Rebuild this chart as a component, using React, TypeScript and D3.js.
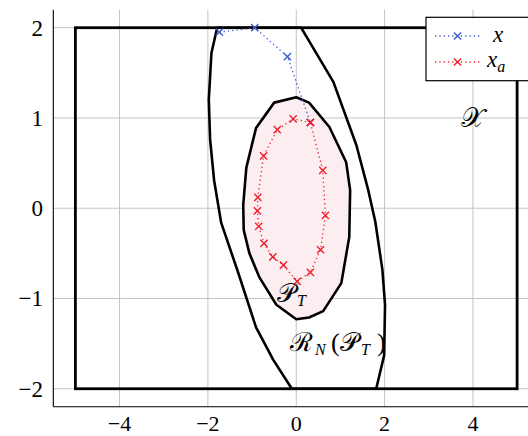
import React from "react";
import * as d3 from "d3";

// Axis ticks
const xTicks = [-4, -2, 0, 2, 4];
const yTicks = [-2, -1, 0, 1, 2];

// State constraint set X (box)
const boxX = [-5, 5];
const boxY = [-2, 2];

// Terminal set P_T (polytope vertices)
const ptX = [0, 0.29, 0.75, 1.13, 1.22, 1.2, 1.02, 0.61, 0.29, 0, -0.45, -0.84, -1.06, -1.19, -1.2, -1.13, -0.91, -0.5];
const ptY = [1.23, 1.17, 0.9, 0.51, 0.2, -0.32, -0.83, -1.14, -1.21, -1.23, -1.07, -0.76, -0.5, -0.24, 0.04, 0.45, 0.89, 1.17];

// N-step reachable set R_N(P_T), clipped by X
const rnX = [-1.79, -1.92, -1.98, -1.95, -1.86, -1.7, -1.31, -0.91, -0.52, -0.1, 1.81, 1.99, 2.01, 1.95, 1.79, 1.63, 1.36, 0.84, 0.11];
const rnY = [2.0, 1.72, 1.2, 0.76, 0.31, -0.16, -0.72, -1.32, -1.68, -2.0, -2.0, -1.63, -1.07, -0.68, -0.15, 0.2, 0.7, 1.4, 2.0];

// Closed-loop trajectory x
const trajX = [-1.74, -0.94, -0.2, 0.32];
const trajY = [1.95, 2.0, 1.68, 0.95];

// Periodic trajectory x_a
const orbX = [0.32, -0.07, -0.43, -0.74, -0.87, -0.88, -0.85, -0.73, -0.53, -0.29, 0.02, 0.32, 0.55, 0.66, 0.6, 0.32];
const orbY = [0.95, 0.99, 0.87, 0.58, 0.12, -0.03, -0.2, -0.39, -0.54, -0.63, -0.81, -0.71, -0.46, -0.08, 0.42, 0.95];

const W = 528;
const H = 436;
const left = 53.3;
const top = 9.65;
const pw = 485.9;
const ph = 397.15;

const blue = "#3c5ccb";
const red = "#f0202e";
const font = "'Liberation Serif', 'DejaVu Serif', serif";

function Cross({ cx, cy, color }: { cx: number; cy: number; color: string }) {
  const s = 3.6;
  return (
    <path
      d={`M${cx - s},${cy - s}L${cx + s},${cy + s}M${cx - s},${cy + s}L${cx + s},${cy - s}`}
      stroke={color}
      strokeWidth={1.4}
      fill="none"
    />
  );
}

export default function App() {
  const x = d3.scaleLinear().domain([-5.5, 5.5]).range([left, left + pw]);
  const y = d3.scaleLinear().domain([-2.2, 2.2]).range([top + ph, top]);

  const line = d3
    .line<[number, number]>()
    .x((d) => x(d[0]))
    .y((d) => y(d[1]));

  const pt: [number, number][] = ptX.map((v, i) => [v, ptY[i]]);
  const rn: [number, number][] = rnX.map((v, i) => [v, rnY[i]]);
  const traj: [number, number][] = trajX.map((v, i) => [v, trajY[i]]);
  const orb: [number, number][] = orbX.map((v, i) => [v, orbY[i]]);

  const lx0 = 435;
  const lx1 = 480;

  return (
    <svg
      width={W}
      height={H}
      style={{ position: "absolute", left: 0, top: 0, background: "#fff" }}
      fontFamily={font}
    >
      <defs>
        <clipPath id="plot">
          <rect x={left} y={top} width={pw} height={ph} />
        </clipPath>
      </defs>
      {/* grid */}
      <g stroke="#c4c4c4" strokeWidth={1}>
        {xTicks.map((t) => (
          <line key={"gx" + t} x1={x(t)} x2={x(t)} y1={top} y2={top + ph} />
        ))}
        {yTicks.map((t) => (
          <line key={"gy" + t} x1={left} x2={left + pw} y1={y(t)} y2={y(t)} />
        ))}
      </g>
      {/* axis lines */}
      <line x1={left} x2={left} y1={top} y2={top + ph} stroke="#000" strokeWidth={1.1} />
      <line x1={left} x2={left + pw} y1={top + ph} y2={top + ph} stroke="#000" strokeWidth={1.1} />
      {/* tick labels */}
      {xTicks.map((t) => (
        <text key={"tx" + t} x={x(t)} y={431} textAnchor="middle" fontSize={22}>
          {t < 0 ? "\u2212" + Math.abs(t) : String(t)}
        </text>
      ))}
      {yTicks.map((t) => (
        <text key={"ty" + t} x={43} y={y(t) + 8} textAnchor="end" fontSize={23}>
          {t < 0 ? "\u2212" + Math.abs(t) : String(t)}
        </text>
      ))}
      <g clipPath="url(#plot)">
        {/* terminal set */}
        <path d={line(pt)! + "Z"} fill="#fbedf0" stroke="#000" strokeWidth={2.6} strokeLinejoin="round" />
        {/* reachable set */}
        <path d={line(rn)! + "Z"} fill="none" stroke="#000" strokeWidth={2.6} strokeLinejoin="round" />
        {/* state constraints */}
        <rect
          x={x(boxX[0])}
          y={y(boxY[1])}
          width={x(boxX[1]) - x(boxX[0])}
          height={y(boxY[0]) - y(boxY[1])}
          fill="none"
          stroke="#000"
          strokeWidth={2.8}
        />
        {/* trajectories */}
        <path d={line(traj)!} fill="none" stroke={blue} strokeWidth={1.3} strokeDasharray="1.3 3" />
        {traj.map((d, i) => (
          <Cross key={"b" + i} cx={x(d[0])} cy={y(d[1])} color={blue} />
        ))}
        <path d={line(orb)!} fill="none" stroke={red} strokeWidth={1.3} strokeDasharray="1.3 3" />
        {orb.map((d, i) => (
          <Cross key={"r" + i} cx={x(d[0])} cy={y(d[1])} color={red} />
        ))}
      </g>
      {/* set labels */}
      <text x={x(4)} y={y(1) + 9} textAnchor="middle" fontSize={27}>
        𝒳
      </text>
      <text y={302} fontSize={26}>
        <tspan x={277}>𝒫</tspan>
        <tspan x={297} fontSize={16} fontStyle="italic" dy={4}>T</tspan>
      </text>
      <text y={351} fontSize={26}>
        <tspan x={290}>ℛ</tspan>
        <tspan x={315} fontSize={16} fontStyle="italic" dy={4}>N</tspan>
        <tspan x={331} dy={-4}>(</tspan>
        <tspan x={340}>𝒫</tspan>
        <tspan x={361} fontSize={16} fontStyle="italic" dy={4}>T</tspan>
        <tspan x={377} dy={-4}>)</tspan>
      </text>
      {/* legend */}
      <rect x={426} y={17.3} width={110} height={63.4} fill="#fff" stroke="#000" strokeWidth={1.2} />
      <line x1={lx0} x2={lx1} y1={36} y2={36} stroke={blue} strokeWidth={1.3} strokeDasharray="1.3 3" />
      <Cross cx={457.5} cy={36} color={blue} />
      <text x={493} y={42} fontSize={23} fontStyle="italic">
        x
      </text>
      <line x1={lx0} x2={lx1} y1={62} y2={62} stroke={red} strokeWidth={1.3} strokeDasharray="1.3 3" />
      <Cross cx={457.5} cy={62} color={red} />
      <text x={487} y={67} fontSize={23} fontStyle="italic">
        x<tspan fontSize={16} dy={5}>a</tspan>
      </text>
    </svg>
  );
}
